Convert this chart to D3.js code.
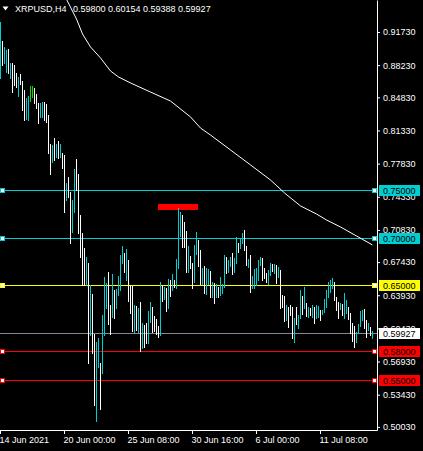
<!DOCTYPE html>
<html>
<head>
<meta charset="utf-8">
<script src="https://cdn.jsdelivr.net/npm/d3@7"></script>
<style>
body { margin: 0; background: #000; }
svg { display: block; }
text { font-family: "Liberation Sans", Arial, sans-serif; font-size: 9px; }
</style>
</head>
<body>
<svg id="chart" width="423" height="451"></svg>
<script>
// XRPUSD H4 bars
var highs = [
  0.9279,0.9078,0.9015,0.8983,0.8994,0.8846,0.8846,0.8825,0.8740,0.8698,
  0.8730,0.8656,0.8561,0.8476,0.8497,0.8603,0.8603,0.8582,0.8518,0.8423,
  0.8423,0.8434,0.8434,0.8413,0.8297,0.7990,0.7980,0.8054,0.7990,0.8022,
  0.7990,0.7895,0.7874,0.7579,0.7642,0.7483,0.7399,0.7726,0.7832,0.7674,
  0.7241,0.7050,0.6892,0.6797,0.6734,0.6501,0.6406,0.5984,0.5899,0.5942,
  0.5678,0.6185,0.6586,0.6523,0.6639,0.6290,0.6618,0.6449,0.6459,0.6597,
  0.6818,0.6913,0.6839,0.6882,0.6765,0.6491,0.6491,0.6290,0.6280,0.6259,
  0.6322,0.6100,0.6079,0.6100,0.6227,0.6322,0.6269,0.6174,0.6142,0.6068,
  0.6533,0.6491,0.6480,0.6470,0.6565,0.6554,0.6618,0.6554,0.6776,0.7315,
  0.7272,0.7241,0.7167,0.7072,0.6913,0.6808,0.6734,0.6924,0.7061,0.6977,
  0.6871,0.6681,0.6702,0.6681,0.6670,0.6649,0.6533,0.6523,0.6512,0.6480,
  0.6586,0.6512,0.6818,0.6797,0.6765,0.6797,0.6839,0.6787,0.7008,0.6945,
  0.6987,0.7050,0.7082,0.6913,0.6776,0.6818,0.6597,0.6670,0.6681,0.6765,
  0.6797,0.6787,0.6681,0.6628,0.6660,0.6734,0.6723,0.6723,0.6713,0.6691,
  0.6660,0.6396,0.6385,0.6290,0.6269,0.6290,0.6269,0.6153,0.6269,0.6185,
  0.6449,0.6385,0.6480,0.6311,0.6269,0.6259,0.6290,0.6269,0.6290,0.6280,
  0.6237,0.6237,0.6354,0.6449,0.6533,0.6554,0.6575,0.6533,0.6375,0.6322,
  0.6311,0.6301,0.6417,0.6343,0.6269,0.6206,0.6100,0.6068,0.6005,0.6090,
  0.6227,0.6237,0.6248,0.6132,0.6100,0.6058,0.6015
];
var lows = [
  0.8687,0.8825,0.8846,0.8751,0.8740,0.8687,0.8539,0.8613,0.8592,0.8497,
  0.8624,0.8349,0.8244,0.8254,0.8244,0.8444,0.8487,0.8423,0.8370,0.8212,
  0.8275,0.8275,0.8244,0.8223,0.7895,0.7674,0.7800,0.7821,0.7853,0.7842,
  0.7853,0.7737,0.7272,0.7399,0.7431,0.6945,0.7061,0.7272,0.7505,0.7050,
  0.6797,0.6501,0.6501,0.6501,0.5678,0.5973,0.5783,0.5234,0.5065,0.5635,
  0.5192,0.5572,0.5973,0.6259,0.6090,0.5984,0.6163,0.6153,0.6259,0.6396,
  0.6449,0.6734,0.6639,0.6554,0.6332,0.6206,0.6016,0.5995,0.6026,0.6005,
  0.5804,0.5836,0.5847,0.5889,0.5889,0.6111,0.6005,0.6016,0.5984,0.5952,
  0.5973,0.6332,0.6354,0.6227,0.6259,0.6385,0.6449,0.6480,0.6470,0.6681,
  0.7019,0.6903,0.6903,0.6639,0.6639,0.6681,0.6470,0.6533,0.6829,0.6702,
  0.6512,0.6512,0.6417,0.6406,0.6512,0.6375,0.6375,0.6311,0.6375,0.6375,
  0.6396,0.6417,0.6480,0.6628,0.6639,0.6702,0.6618,0.6639,0.6734,0.6850,
  0.6892,0.6945,0.6871,0.6713,0.6691,0.6427,0.6470,0.6470,0.6501,0.6554,
  0.6713,0.6554,0.6575,0.6533,0.6512,0.6607,0.6649,0.6628,0.6523,0.6586,
  0.6259,0.6269,0.6121,0.6132,0.6058,0.6185,0.5942,0.5899,0.6090,0.6047,
  0.6153,0.6195,0.6259,0.6174,0.6163,0.6185,0.6163,0.6100,0.6153,0.6163,
  0.6132,0.6195,0.6216,0.6269,0.6375,0.6427,0.6470,0.6343,0.6237,0.6153,
  0.6248,0.6185,0.6153,0.6206,0.6142,0.5995,0.5910,0.5847,0.5899,0.5995,
  0.6068,0.6132,0.6047,0.5952,0.6026,0.5973,0.5939
];
// u = up bar (cyan), d = down bar (white), g = green
var barKinds = ("uduududddu" + "ddduuggddd" + "uuddddudud" + "uddudduudd" + "dddududduu" +
  "duuudduduu" + "uududddudu" + "dudduudddd" + "ududududuu" + "udddudduud" +
  "duduududud" + "uuuduuduud" + "uudduduuuu" + "uddduududu" + "dddudddudu" +
  "ududududuu" + "duuuuuuddd" + "uduudddduu" + "uuddudu").split("");

// moving average (bar index, value)
var maBars = [32, 38, 41, 45, 50, 55, 59, 65, 75, 85, 95, 100, 105, 115, 125, 135, 142, 150, 158, 163, 170, 178, 186];
var maValues = [0.9560, 0.9310, 0.9152, 0.9015, 0.8899, 0.8761, 0.8698, 0.8635, 0.8539, 0.8444, 0.8276, 0.8159,
  0.8085, 0.7927, 0.7769, 0.7610, 0.7473, 0.7336, 0.7251, 0.7188, 0.7114, 0.7019, 0.6924];

var levelPrices = [0.75, 0.70, 0.65, 0.58, 0.55];
var levelColors = ["#00CED1", "#00CED1", "#FFFF00", "#FF0000", "#FF0000"];
var bidPrice = 0.59927;

var rectBars = [79, 99];
var rectPrices = [0.7357, 0.7294];

var priceTicks = [0.9173, 0.8823, 0.8483, 0.8133, 0.7783, 0.7433, 0.7083, 0.6743, 0.6393, 0.6043, 0.5693, 0.5343, 0.5003];
var timeTickBars = [0, 32, 64, 96, 128, 160];
var timeTickLabels = ["14 Jun 2021", "20 Jun 00:00", "25 Jun 08:00", "30 Jun 16:00", "6 Jul 00:00", "11 Jul 08:00"];

var title = "XRPUSD,H4";
var titleValues = "0.59800 0.60154 0.59388 0.59927";

var svg = d3.select("#chart"),
  width = +svg.attr("width"),
  height = +svg.attr("height");

var plotRight = 377, plotBottom = 430;

var x = d3.scaleLinear().domain([0, 188.5]).range([0, plotRight]);
var y = d3.scaleLinear().domain([0.4970, 0.95109]).range([plotBottom, 0]);

svg.append("rect").attr("width", width).attr("height", height).attr("fill", "#000");

svg.append("defs").append("clipPath").attr("id", "plot")
  .append("rect").attr("width", plotRight).attr("height", plotBottom);

var row = function(p) { return Math.round(y(p)); };

// red rectangle object
svg.append("rect")
  .attr("x", x(rectBars[0]))
  .attr("y", row(rectPrices[0]))
  .attr("width", x(rectBars[1]) - x(rectBars[0]))
  .attr("height", row(rectPrices[1]) - row(rectPrices[0]))
  .attr("fill", "#FF0000");

// level lines
var levels = svg.append("g").attr("shape-rendering", "crispEdges");
levels.selectAll("line")
  .data(levelPrices)
  .enter().append("line")
  .attr("x1", 0).attr("x2", plotRight)
  .attr("y1", function(d) { return row(d) + 0.5; })
  .attr("y2", function(d) { return row(d) + 0.5; })
  .attr("stroke", function(d, i) { return levelColors[i]; });

// bid line
svg.append("line")
  .attr("x1", 0).attr("x2", plotRight)
  .attr("y1", row(bidPrice) + 0.5).attr("y2", row(bidPrice) + 0.5)
  .attr("stroke", "#7F8A96")
  .attr("shape-rendering", "crispEdges");

// bars
var kindColor = { u: "#00CED1", d: "#FFFFFF", g: "#00E000" };
svg.append("g")
  .attr("shape-rendering", "crispEdges")
  .selectAll("rect")
  .data(highs)
  .enter().append("rect")
  .attr("x", function(d, i) { return x(i); })
  .attr("width", 1)
  .attr("y", function(d) { return row(d); })
  .attr("height", function(d, i) { return Math.max(1, row(lows[i]) - row(d) + 1); })
  .attr("fill", function(d, i) { return kindColor[barKinds[i]]; });

// moving average
svg.append("path")
  .datum(maBars)
  .attr("clip-path", "url(#plot)")
  .attr("fill", "none")
  .attr("stroke", "#fff")
  .attr("stroke-width", 1)
  .attr("d", d3.line()
    .x(function(d) { return x(d) + 0.5; })
    .y(function(d, i) { return y(maValues[i]); }));

// level markers
levelPrices.forEach(function(p, i) {
  [0.5, plotRight - 4.5].forEach(function(mx) {
    svg.append("rect")
      .attr("x", mx).attr("y", row(p) - 1.5)
      .attr("width", 4).attr("height", 4)
      .attr("fill", "#fff")
      .attr("stroke", levelColors[i])
      .attr("shape-rendering", "crispEdges");
  });
});

// price axis
var yAxis = svg.append("g")
  .attr("transform", "translate(" + plotRight + ",0)")
  .call(d3.axisRight(y).tickValues(priceTicks).tickSize(3).tickSizeOuter(0).tickPadding(3)
    .tickFormat(function(d) { return d.toFixed(5); }));
yAxis.select(".domain").attr("stroke", "#fff");
yAxis.selectAll(".tick line").attr("stroke", "#fff");
yAxis.selectAll(".tick text").attr("fill", "#fff").style("font-size", "9px")
  .style("font-family", "'Liberation Sans', Arial, sans-serif");

// time axis
var xAxis = svg.append("g")
  .attr("transform", "translate(0," + plotBottom + ")")
  .call(d3.axisBottom(x).tickValues(timeTickBars).tickSize(4).tickSizeOuter(0).tickPadding(3)
    .tickFormat(function(d, i) { return timeTickLabels[i]; }));
xAxis.select(".domain").attr("stroke", "#fff");
xAxis.selectAll(".tick line").attr("stroke", "#fff");
xAxis.selectAll(".tick text").attr("fill", "#fff").attr("text-anchor", "start").attr("x", -1)
  .style("font-size", "9px").style("font-family", "'Liberation Sans', Arial, sans-serif");

// price labels on the scale
var tags = levelPrices.map(function(p, i) { return { p: p, bg: levelColors[i] }; });
tags.push({ p: bidPrice, bg: "#FFFFFF" });
tags.forEach(function(t) {
  svg.append("rect")
    .attr("x", 379).attr("y", row(t.p) - 5)
    .attr("width", 41).attr("height", 11)
    .attr("fill", t.bg);
  svg.append("text")
    .attr("x", 383).attr("y", row(t.p) + 4)
    .attr("fill", "#000")
    .text(t.p.toFixed(5));
});

// title
svg.append("path").attr("d", "M2.5,6.5 L8.5,6.5 L5.5,10.5 Z").attr("fill", "#fff");
svg.append("text").attr("x", 15).attr("y", 12).attr("fill", "#fff").text(title);
svg.append("text").attr("x", 73).attr("y", 12).attr("fill", "#fff").text(titleValues);
</script>
</body>
</html>
